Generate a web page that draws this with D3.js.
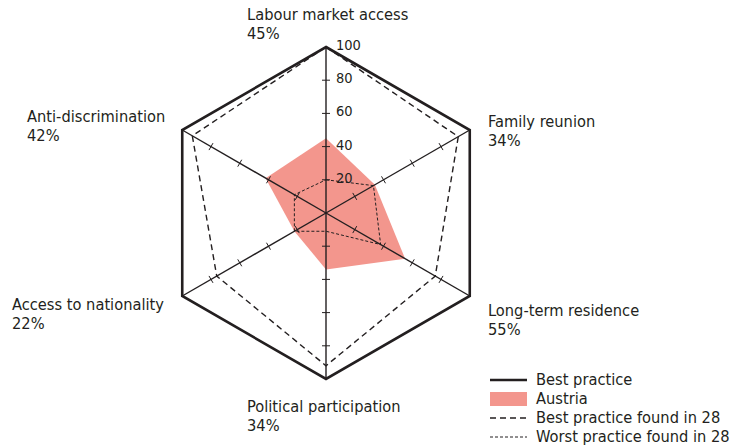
<!DOCTYPE html>
<html>
<head>
<meta charset="UTF-8">
<script src="https://cdn.jsdelivr.net/npm/d3@7"></script>
<style>
  body { margin: 0; background: #fff; }
  svg text { font-family: "Liberation Sans Narrow", "DejaVu Sans Condensed", sans-serif; fill: #231f20; }
</style>
</head>
<body>
<svg id="chart" width="745" height="446"></svg>
<script>
// data
var axesNames = ["Labour market access", "Family reunion", "Long-term residence",
                 "Political participation", "Access to nationality", "Anti-discrimination"];
var austria = [45, 34, 55, 34, 22, 42];
var bestPractice = [100, 100, 100, 100, 100, 100];
var bestFound = [100, 92, 76, 92, 76, 93];
var worstFound = [20, 33, 38, 11, 22, 22];
var scaleTicks = [20, 40, 60, 80, 100];
var legendNames = ["Best practice", "Austria", "Best practice found in 28", "Worst practice found in 28"];

var cx = 326, cy = 213;
var svg = d3.select("#chart");
var r = d3.scaleLinear().domain([0, 100]).range([0, 166]);
var angle = d3.scaleLinear().domain([0, axesNames.length]).range([0, 2 * Math.PI]);

function pt(i, v) {
  var a = angle(i);
  return [cx + r(v) * Math.sin(a), cy - r(v) * Math.cos(a)];
}
var poly = function(vals) {
  return d3.line().curve(d3.curveLinearClosed)(vals.map(function(v, i) { return pt(i, v); }));
};

// Austria area
svg.append("path").attr("d", poly(austria)).attr("fill", "#f3968d");

// axes
svg.selectAll(".axis").data(axesNames).join("line")
  .attr("x1", cx).attr("y1", cy)
  .attr("x2", function(d, i) { return pt(i, 100)[0]; })
  .attr("y2", function(d, i) { return pt(i, 100)[1]; })
  .attr("stroke", "#231f20").attr("stroke-width", 1.4);

// tick marks
axesNames.forEach(function(name, i) {
  var a = angle(i);
  var px = Math.cos(a), py = Math.sin(a);
  scaleTicks.slice(0, 4).forEach(function(t) {
    var p = pt(i, t);
    svg.append("line")
      .attr("x1", p[0] - 4 * px).attr("y1", p[1] - 4 * py)
      .attr("x2", p[0] + 4 * px).attr("y2", p[1] + 4 * py)
      .attr("stroke", "#231f20").attr("stroke-width", 1);
  });
});

// worst / best found
svg.append("path").attr("d", poly(worstFound)).attr("fill", "none")
  .attr("stroke", "#231f20").attr("stroke-width", 1).attr("stroke-dasharray", "3,2");
svg.append("path").attr("d", poly(bestFound)).attr("fill", "none")
  .attr("stroke", "#231f20").attr("stroke-width", 1.4).attr("stroke-dasharray", "6,4");

// best practice hexagon
svg.append("path").attr("d", poly(bestPractice)).attr("fill", "none")
  .attr("stroke", "#231f20").attr("stroke-width", 2.6).attr("stroke-linejoin", "miter");

// scale numbers
svg.selectAll(".num").data(scaleTicks).join("text")
  .attr("x", cx + 10).attr("y", function(d) { return cy - r(d) + 3; })
  .attr("font-size", 14.5).text(function(d) { return d; });

// axis labels
var labelPos = [[247, 20], [488, 127], [488, 316], [247, 412], [12, 310], [27, 122]];
axesNames.forEach(function(name, i) {
  var g = svg.append("g");
  g.append("text").attr("font-size", 16.3)
    .attr("x", labelPos[i][0]).attr("y", labelPos[i][1]).text(name);
  g.append("text").attr("font-size", 16.3)
    .attr("x", labelPos[i][0]).attr("y", labelPos[i][1] + 18.5).text(austria[i] + "%");
});

// legend
var lg = svg.append("g").attr("transform", "translate(490,380)");
legendNames.forEach(function(name, i) {
  var y = i * 19;
  if (i === 1) {
    lg.append("rect").attr("x", 0).attr("y", y - 7).attr("width", 37).attr("height", 14).attr("fill", "#f3968d");
  } else {
    lg.append("line").attr("x1", 0).attr("x2", 37).attr("y1", y).attr("y2", y)
      .attr("stroke", "#231f20")
      .attr("stroke-width", i === 0 ? 2.6 : (i === 2 ? 1.4 : 1))
      .attr("stroke-dasharray", i === 2 ? "6,4" : (i === 3 ? "3,2" : null));
  }
  lg.append("text").attr("x", 46).attr("y", y + 5).attr("font-size", 16.3).text(name);
});
</script>
</body>
</html>
